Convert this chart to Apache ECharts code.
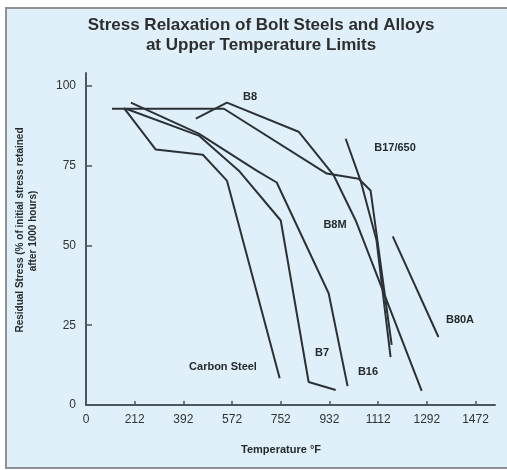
<!DOCTYPE html>
<html lang="en">
  <head>
    <meta charset="utf-8" />
    <style>
      html,
      body {
        margin: 0;
        width: 100%;
        height: 100%;
        background-color: #ffffff;
      }
      #frame {
        position: absolute;
        left: 5px;
        top: 7px;
        width: 520px;
        height: 458px;
        border: 2px solid #8f9194;
        background-color: #dff0fa;
      }
      #container {
        position: absolute;
        left: 0;
        top: 0;
        width: 507px;
        height: 470px;
      }
    </style>
    <script src="https://cdn.jsdelivr.net/npm/echarts@6/dist/echarts.min.js"></script>
  </head>

  <body>
    <div id="frame"></div>
    <div id="container"></div>

    <script>
      // temperatures in °F, stress as % of initial stress retained
      var carbonTemp = [172, 290, 464, 553, 748];
      var carbonStress = [93.1, 80, 78.4, 70.3, 8.4];

      var b7Temp = [180, 449, 597, 752, 855, 955];
      var b7Stress = [92.8, 84.4, 73.4, 57.8, 7.2, 4.7];

      var b16Temp = [198, 449, 663, 737, 929, 999];
      var b16Stress = [94.7, 85, 73.4, 69.7, 35, 5.9];

      var b8Temp = [438, 553, 818, 948, 1029, 1273];
      var b8Stress = [89.7, 94.7, 85.6, 71.9, 57.8, 4.4];

      var b8mTemp = [128, 542, 922, 1040, 1084, 1162];
      var b8mStress = [92.8, 92.8, 72.5, 70.9, 67.2, 18.8];

      var b17Temp = [992, 1047, 1106, 1158];
      var b17Stress = [83.4, 70.3, 51.6, 15];

      var b80aTemp = [1166, 1335];
      var b80aStress = [52.8, 21.3];

      var xTickC = [0, 100, 200, 300, 400, 500, 600, 700, 800];
      var yTicks = [0, 25, 50, 75, 100];

      var font = '"Liberation Sans", Arial, sans-serif';
      var ink = "#2c3135";
      var axisInk = "#4d565c";

      function toC(f) {
        return (f - 32) / 1.8;
      }

      function makeSeries(name, temps, stress) {
        return {
          name: name,
          type: "line",
          symbol: "none",
          silent: true,
          animation: false,
          lineStyle: { color: ink, width: 2 },
          data: temps.map(function (f, i) {
            return [toC(f), stress[i]];
          })
        };
      }

      function label(text, x, y, opts) {
        opts = opts || {};
        return {
          type: "text",
          x: x,
          y: y,
          rotation: opts.rotation || 0,
          silent: true,
          style: {
            text: text,
            fill: opts.fill || "#262a2d",
            font: opts.font || "bold 11px " + font,
            align: "center",
            verticalAlign: "middle",
            textAlign: "center",
            textVerticalAlign: "middle"
          }
        };
      }

      var chart = echarts.init(document.querySelector("#container"), null, { renderer: "canvas" });

      var option = {
        backgroundColor: "transparent",
        animation: false,
        grid: { left: 86, right: 12, top: 73, bottom: 65 },
        xAxis: {
          type: "value",
          min: 0,
          max: 840,
          interval: 100,
          splitLine: { show: false },
          axisLine: { show: true, lineStyle: { color: axisInk, width: 2 } },
          axisTick: {
            show: true,
            inside: true,
            length: 4,
            customValues: xTickC.slice(1),
            lineStyle: { color: axisInk, width: 1.5 }
          },
          axisLabel: {
            customValues: xTickC,
            margin: 9,
            fontSize: 12,
            fontFamily: font,
            color: "#333333",
            formatter: function (v) {
              return v === 0 ? "0" : String(Math.round(v * 1.8 + 32));
            }
          }
        },
        yAxis: {
          type: "value",
          min: 0,
          max: 104,
          interval: 25,
          splitLine: { show: false },
          axisLine: { show: true, lineStyle: { color: axisInk, width: 2 } },
          axisTick: {
            show: true,
            inside: true,
            length: 6,
            customValues: yTicks.slice(1),
            lineStyle: { color: axisInk, width: 1.5 }
          },
          axisLabel: {
            customValues: yTicks,
            margin: 10,
            fontSize: 12,
            fontFamily: font,
            color: "#333333"
          }
        },
        series: [
          makeSeries("Carbon Steel", carbonTemp, carbonStress),
          makeSeries("B7", b7Temp, b7Stress),
          makeSeries("B16", b16Temp, b16Stress),
          makeSeries("B8", b8Temp, b8Stress),
          makeSeries("B8M", b8mTemp, b8mStress),
          makeSeries("B17/650", b17Temp, b17Stress),
          makeSeries("B80A", b80aTemp, b80aStress)
        ],
        graphic: [
          label("Stress Relaxation of Bolt Steels and Alloys", 261, 25, {
            font: "bold 17px " + font,
            fill: "#2e2e2e"
          }),
          label("at Upper Temperature Limits", 261, 45, {
            font: "bold 17px " + font,
            fill: "#2e2e2e"
          }),
          label("Residual Stress (% of initial stress retained", 20, 230, {
            rotation: Math.PI / 2,
            font: "bold 10px " + font
          }),
          label("after 1000 hours)", 33, 231, {
            rotation: Math.PI / 2,
            font: "bold 10px " + font
          }),
          label("Temperature °F", 281, 450, { font: "bold 11px " + font }),
          label("B8", 250, 97),
          label("B17/650", 395, 148),
          label("B8M", 335, 225),
          label("B80A", 460, 320),
          label("B7", 322, 353),
          label("B16", 368, 372),
          label("Carbon Steel", 223, 367)
        ]
      };

      chart.setOption(option);
    </script>
  </body>
</html>
